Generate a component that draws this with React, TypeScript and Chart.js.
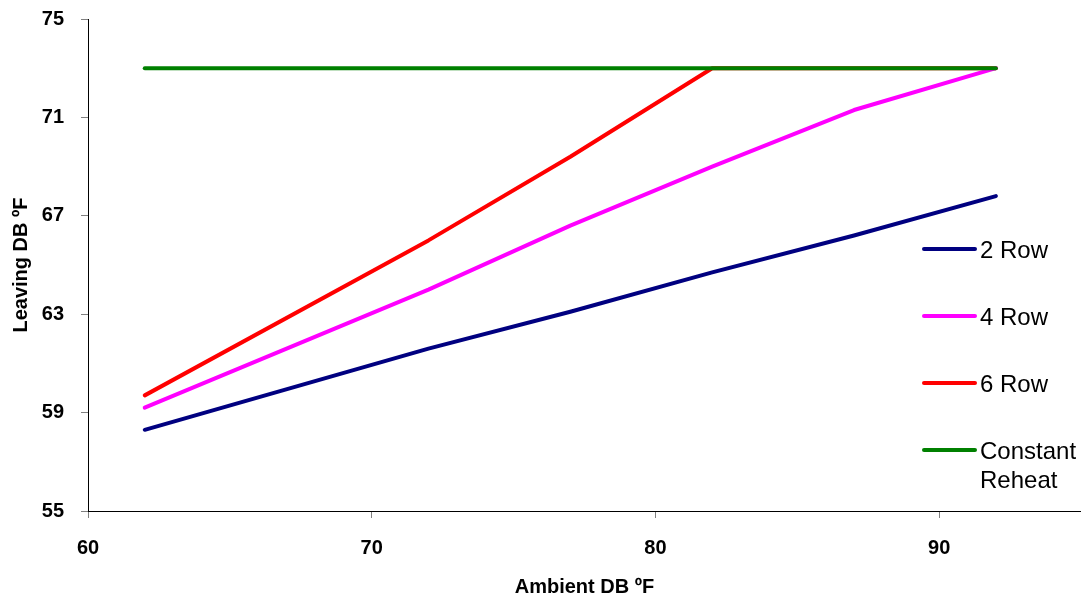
import React, { useEffect, useRef } from "react";
import { Chart, registerables } from "chart.js";

Chart.register(...registerables);

const xValues = [62, 72, 77, 82, 87, 92];
const row2 = [58.3, 61.6, 63.1, 64.7, 66.2, 67.8];
const row4 = [59.2, 64.0, 66.6, 69.0, 71.3, 73.0];
const row6 = [59.7, 66.0, 69.4, 73.0, 73.0, 73.0];
const constantReheat = [73, 73, 73, 73, 73, 73];
const seriesNames = ["2 Row", "4 Row", "6 Row", "Constant Reheat"];
const seriesColors = ["#000080", "#FF00FF", "#FF0000", "#008000"];
const xTicks = [60, 70, 80, 90];
const yTicks = [55, 59, 63, 67, 71, 75];

const FONT = "'Liberation Sans', Arial, Helvetica, sans-serif";

export default function App() {
  const canvasRef = useRef<HTMLCanvasElement | null>(null);

  useEffect(() => {
    const canvas = canvasRef.current;
    if (!canvas) return;
    const allSeries = [row2, row4, row6, constantReheat];
    const datasets = allSeries.map((vals, i) => ({
      label: seriesNames[i],
      data: vals.map((y, j) => ({ x: xValues[j], y })),
      borderColor: seriesColors[i],
      backgroundColor: seriesColors[i],
      borderWidth: 4,
      borderCapStyle: "round" as const,
      borderJoinStyle: "round" as const,
      pointRadius: 0,
      pointHoverRadius: 0,
      tension: 0,
      fill: false,
      order: i === 3 ? -1 : i,
    }));
    const chart = new Chart(canvas, {
      type: "line",
      data: { datasets },
      options: {
        animation: false,
        responsive: false,
        maintainAspectRatio: false,
        layout: { padding: { top: 19, right: 0, bottom: 0, left: 0 } },
        plugins: {
          legend: { display: false },
          tooltip: { enabled: false },
        },
        scales: {
          x: {
            type: "linear",
            min: 60,
            max: 95,
            afterBuildTicks: (scale: any) => {
              scale.ticks = xTicks.map((v) => ({ value: v }));
            },
            afterFit: (scale: any) => {
              scale.height = 88;
              scale.paddingLeft = 0;
              scale.paddingRight = 0;
            },
            grid: {
              display: true,
              drawOnChartArea: false,
              drawTicks: true,
              tickLength: 7,
              color: "#808080",
            },
            border: { display: true, color: "#000000", width: 1 },
            ticks: {
              color: "#000000",
              padding: 18,
              maxRotation: 0,
              font: { family: FONT, size: 20, weight: "bold" },
            },
            title: {
              display: true,
              text: "Ambient DB ºF",
              color: "#000000",
              padding: { top: -2, bottom: 0 },
              font: { family: FONT, size: 20, weight: "bold" },
            },
          },
          y: {
            type: "linear",
            min: 55,
            max: 75,
            afterBuildTicks: (scale: any) => {
              scale.ticks = yTicks.map((v) => ({ value: v }));
            },
            afterFit: (scale: any) => {
              scale.width = 88;
              scale.paddingTop = 0;
              scale.paddingBottom = 0;
            },
            grid: {
              display: true,
              drawOnChartArea: false,
              drawTicks: true,
              tickLength: 7,
              color: "#808080",
            },
            border: { display: true, color: "#000000", width: 1 },
            ticks: {
              color: "#000000",
              padding: 17,
              font: { family: FONT, size: 20, weight: "bold" },
            },
            title: {
              display: true,
              text: "Leaving DB ºF",
              color: "#000000",
              padding: { top: 9, bottom: 0 },
              font: { family: FONT, size: 20, weight: "bold" },
            },
          },
        },
      },
    });
    return () => chart.destroy();
  }, []);

  const legendTops = [249, 316, 383, 450];

  return (
    <div
      style={{
        position: "fixed",
        left: 0,
        top: 0,
        width: 1081,
        height: 599,
        background: "#ffffff",
        overflow: "hidden",
      }}
    >
      <canvas
        ref={canvasRef}
        width={1081}
        height={599}
        style={{ width: 1081, height: 599, display: "block" }}
      />
      {seriesNames.map((name, i) => (
        <div
          key={name}
          style={{
            position: "absolute",
            left: 922,
            top: legendTops[i] - 14,
            display: "flex",
            alignItems: "flex-start",
            fontFamily: FONT,
            fontSize: 24,
            lineHeight: "29px",
            color: "#000000",
          }}
        >
          <div
            style={{
              width: 55,
              height: 4,
              marginTop: 12,
              borderRadius: 2,
              background: seriesColors[i],
            }}
          />
          <div style={{ marginLeft: 3, width: 110, whiteSpace: "normal" }}>{name}</div>
        </div>
      ))}
    </div>
  );
}
